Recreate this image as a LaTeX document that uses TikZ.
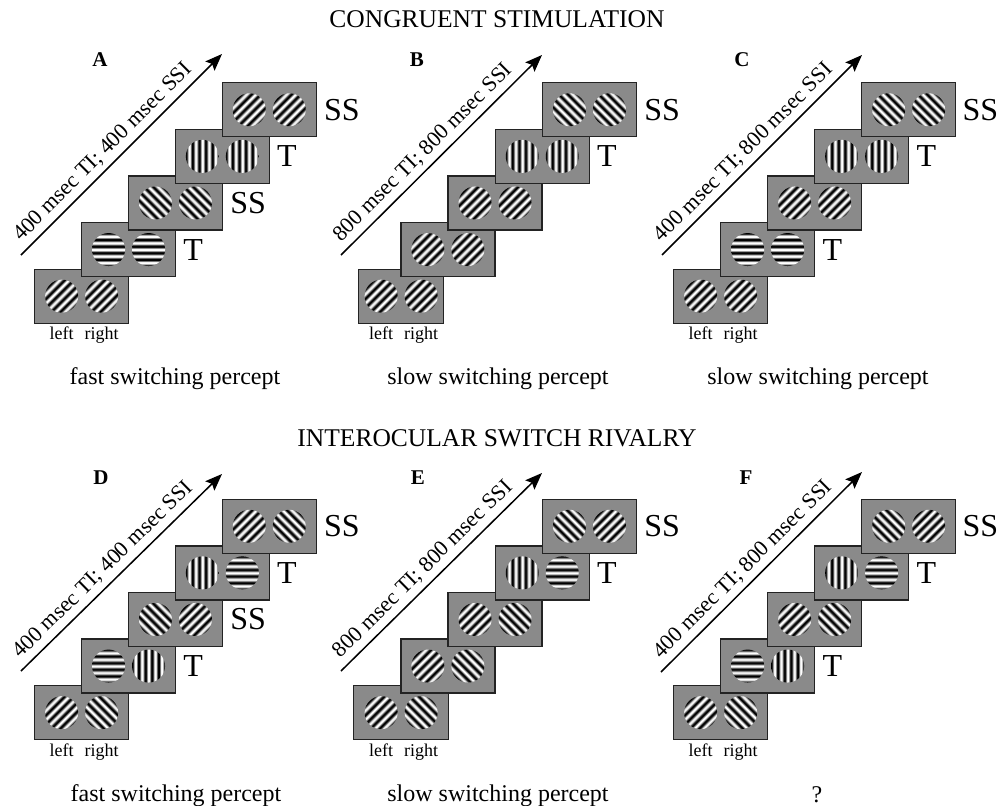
\documentclass[tikz,border=0pt]{standalone}
\usepackage{fontspec}
\setmainfont{Liberation Serif}
\usetikzlibrary{arrows.meta}
\definecolor{framegray}{RGB}{138,138,138}
\definecolor{frameline}{RGB}{35,35,35}
\pgfdeclarehorizontalshading{gratsh}{100bp}{color(0bp)=(white); color(1bp)=(white); color(4bp)=(black); color(6bp)=(black); color(9bp)=(white); color(11bp)=(white); color(14bp)=(black); color(16bp)=(black); color(19bp)=(white); color(21bp)=(white); color(24bp)=(black); color(26bp)=(black); color(29bp)=(white); color(31bp)=(white); color(34bp)=(black); color(36bp)=(black); color(39bp)=(white); color(41bp)=(white); color(44bp)=(black); color(46bp)=(black); color(49bp)=(white); color(51bp)=(white); color(54bp)=(black); color(56bp)=(black); color(59bp)=(white); color(61bp)=(white); color(64bp)=(black); color(66bp)=(black); color(69bp)=(white); color(71bp)=(white); color(74bp)=(black); color(76bp)=(black); color(79bp)=(white); color(81bp)=(white); color(84bp)=(black); color(86bp)=(black); color(89bp)=(white); color(91bp)=(white); color(94bp)=(black); color(96bp)=(black); color(99bp)=(white); color(100bp)=(white)}
\newcommand{\oriP}{-45}
\newcommand{\oriN}{45}
\newcommand{\oriH}{90}
\newcommand{\oriV}{0}
\tikzset{
  frm/.style={rectangle, draw=frameline, line width=1.3pt, fill=framegray, minimum height=54pt, inner sep=0pt},
  grat/.style={circle, inner sep=0pt, minimum size=33pt, shade, shading=gratsh},
  lab/.style={font=\fontsize{32}{36}\selectfont, inner sep=0pt, anchor=west},
  lrlab/.style={font=\fontsize{18}{20}\selectfont, inner sep=0pt, anchor=base},
  perc/.style={font=\fontsize{24}{28}\selectfont, inner sep=0pt, anchor=base},
  ttl/.style={font=\fontsize{25.5}{30}\selectfont, inner sep=0pt, anchor=base},
  letter/.style={font=\bfseries\fontsize{21}{24}\selectfont, inner sep=0pt},
  tarrow/.style={line width=1.5pt, -{Stealth[length=17pt,width=13pt,inset=3pt]}},
  arrlab/.style={font=\fontsize{22}{26}\selectfont, inner sep=0pt, sloped, above=5pt},
}
\newcommand{\frm}[6]{%
  \node[frm, minimum width=#4pt, anchor=north west] (#1) at (#2,#3) {};
  \node[grat, shading angle=#5] (#1l) at ([xshift=-20pt]#1.center) {};
  \node[grat, shading angle=#6] (#1r) at ([xshift=20pt]#1.center) {};
}
\newcommand{\lr}[1]{%
  \node[lrlab] (#1left) at ([yshift=-43.5pt]#1l.center) {left};
  \node[lrlab] (#1right) at ([yshift=-43.5pt]#1r.center) {right};
}
\begin{document}
\begin{tikzpicture}[x=1pt,y=-1pt]
\useasboundingbox[fill=white] (0,0) rectangle (997,806);

% titles
\node[ttl] (t1) at (497,27) {CONGRUENT STIMULATION};
\node[ttl] (t2) at (497,446) {INTEROCULAR SWITCH RIVALRY};

% panel letters
\node[letter] (LA) at (100,60) {A};
\node[letter] (LB) at (417,60) {B};
\node[letter] (LC) at (742,60) {C};
\node[letter] (LD) at (101,478) {D};
\node[letter] (LE) at (418,478) {E};
\node[letter] (LF) at (746,478) {F};

% ---------- Panel A ----------
\frm{A1}{34}{268.5}{94}{\oriP}{\oriP}
\frm{A2}{80.9}{221.9}{94}{\oriH}{\oriH}
\frm{A3}{127.8}{175.3}{94}{\oriN}{\oriN}
\frm{A4}{174.7}{128.7}{94}{\oriV}{\oriV}
\frm{A5}{221.6}{82.1}{94}{\oriP}{\oriP}
\lr{A1}
\node[lab] (A2t) at ([xshift=7pt]A2.east) {T};
\node[lab] (A3t) at ([xshift=7pt]A3.east) {SS};
\node[lab] (A4t) at ([xshift=7pt]A4.east) {T};
\node[lab] (A5t) at ([xshift=7pt]A5.east) {SS};
\coordinate (As) at (21,255);
\coordinate (Ae) at (222,54);
\draw[tarrow] (As) -- (Ae) node[arrlab, pos=0.46] {400 msec TI; 400 msec SSI};
\node[perc] (Ap) at (175,384) {fast switching percept};

% ---------- Panel B ----------
\frm{B1}{358}{268.5}{85}{\oriP}{\oriP}
\frm{B2}{400.2}{221.9}{94}{\oriP}{\oriP}
\frm{B3}{447.4}{175.3}{94}{\oriP}{\oriP}
\frm{B4}{494.6}{128.7}{94}{\oriV}{\oriV}
\frm{B5}{541.8}{82.1}{94}{\oriN}{\oriN}
\lr{B1}
\node[lab] (B4t) at ([xshift=7pt]B4.east) {T};
\node[lab] (B5t) at ([xshift=7pt]B5.east) {SS};
\coordinate (Bs) at (341,255);
\coordinate (Be) at (542,55);
\draw[tarrow] (Bs) -- (Be) node[arrlab, pos=0.46] {800 msec TI; 800 msec SSI};
\node[perc] (Bp) at (498,384) {slow switching percept};

% ---------- Panel C ----------
\frm{C1}{673}{268.5}{94}{\oriP}{\oriP}
\frm{C2}{720}{221.9}{94}{\oriH}{\oriH}
\frm{C3}{767}{175.3}{94}{\oriP}{\oriP}
\frm{C4}{814}{128.7}{94}{\oriV}{\oriV}
\frm{C5}{861}{82.1}{94}{\oriN}{\oriN}
\lr{C1}
\node[lab] (C2t) at ([xshift=7pt]C2.east) {T};
\node[lab] (C4t) at ([xshift=7pt]C4.east) {T};
\node[lab] (C5t) at ([xshift=6pt]C5.east) {SS};
\coordinate (Cs) at (662,255);
\coordinate (Ce) at (862,55);
\draw[tarrow] (Cs) -- (Ce) node[arrlab, pos=0.46] {400 msec TI; 800 msec SSI};
\node[perc] (Cp) at (818,384) {slow switching percept};

% ---------- Panel D ----------
\frm{D1}{34}{685}{94}{\oriP}{\oriN}
\frm{D2}{80.9}{638.4}{94}{\oriH}{\oriV}
\frm{D3}{127.8}{591.8}{94}{\oriN}{\oriP}
\frm{D4}{174.7}{545.2}{94}{\oriV}{\oriH}
\frm{D5}{221.6}{498.6}{94}{\oriP}{\oriN}
\lr{D1}
\node[lab] (D2t) at ([xshift=7pt]D2.east) {T};
\node[lab] (D3t) at ([xshift=7pt]D3.east) {SS};
\node[lab] (D4t) at ([xshift=7pt]D4.east) {T};
\node[lab] (D5t) at ([xshift=7pt]D5.east) {SS};
\coordinate (Ds) at (21,671);
\coordinate (De) at (222,474);
\draw[tarrow] (Ds) -- (De) node[arrlab, pos=0.46] {400 msec TI; 400 msec SSI};
\node[perc] (Dp) at (176,801) {fast switching percept};

% ---------- Panel E ----------
\frm{E1}{353}{685}{95}{\oriP}{\oriN}
\frm{E2}{400.2}{638.4}{94}{\oriP}{\oriN}
\frm{E3}{447.4}{591.8}{94}{\oriP}{\oriN}
\frm{E4}{494.6}{545.2}{94}{\oriV}{\oriH}
\frm{E5}{541.8}{498.6}{94}{\oriN}{\oriP}
\lr{E1}
\node[lab] (E4t) at ([xshift=7pt]E4.east) {T};
\node[lab] (E5t) at ([xshift=7pt]E5.east) {SS};
\coordinate (Es) at (341,671);
\coordinate (Ee) at (542,473);
\draw[tarrow] (Es) -- (Ee) node[arrlab, pos=0.46] {800 msec TI; 800 msec SSI};
\node[perc] (Ep) at (498,801) {slow switching percept};

% ---------- Panel F ----------
\frm{F1}{673}{685}{94}{\oriP}{\oriN}
\frm{F2}{720}{638.4}{94}{\oriH}{\oriV}
\frm{F3}{767}{591.8}{94}{\oriP}{\oriN}
\frm{F4}{814}{545.2}{94}{\oriV}{\oriH}
\frm{F5}{861}{498.6}{94}{\oriN}{\oriP}
\lr{F1}
\node[lab] (F2t) at ([xshift=7pt]F2.east) {T};
\node[lab] (F4t) at ([xshift=7pt]F4.east) {T};
\node[lab] (F5t) at ([xshift=6pt]F5.east) {SS};
\coordinate (Fs) at (661,672);
\coordinate (Fe) at (862,472);
\draw[tarrow] (Fs) -- (Fe) node[arrlab, pos=0.46] {400 msec TI; 800 msec SSI};
\node[perc] (Fp) at (817,802) {?};
\end{tikzpicture}
\end{document}
